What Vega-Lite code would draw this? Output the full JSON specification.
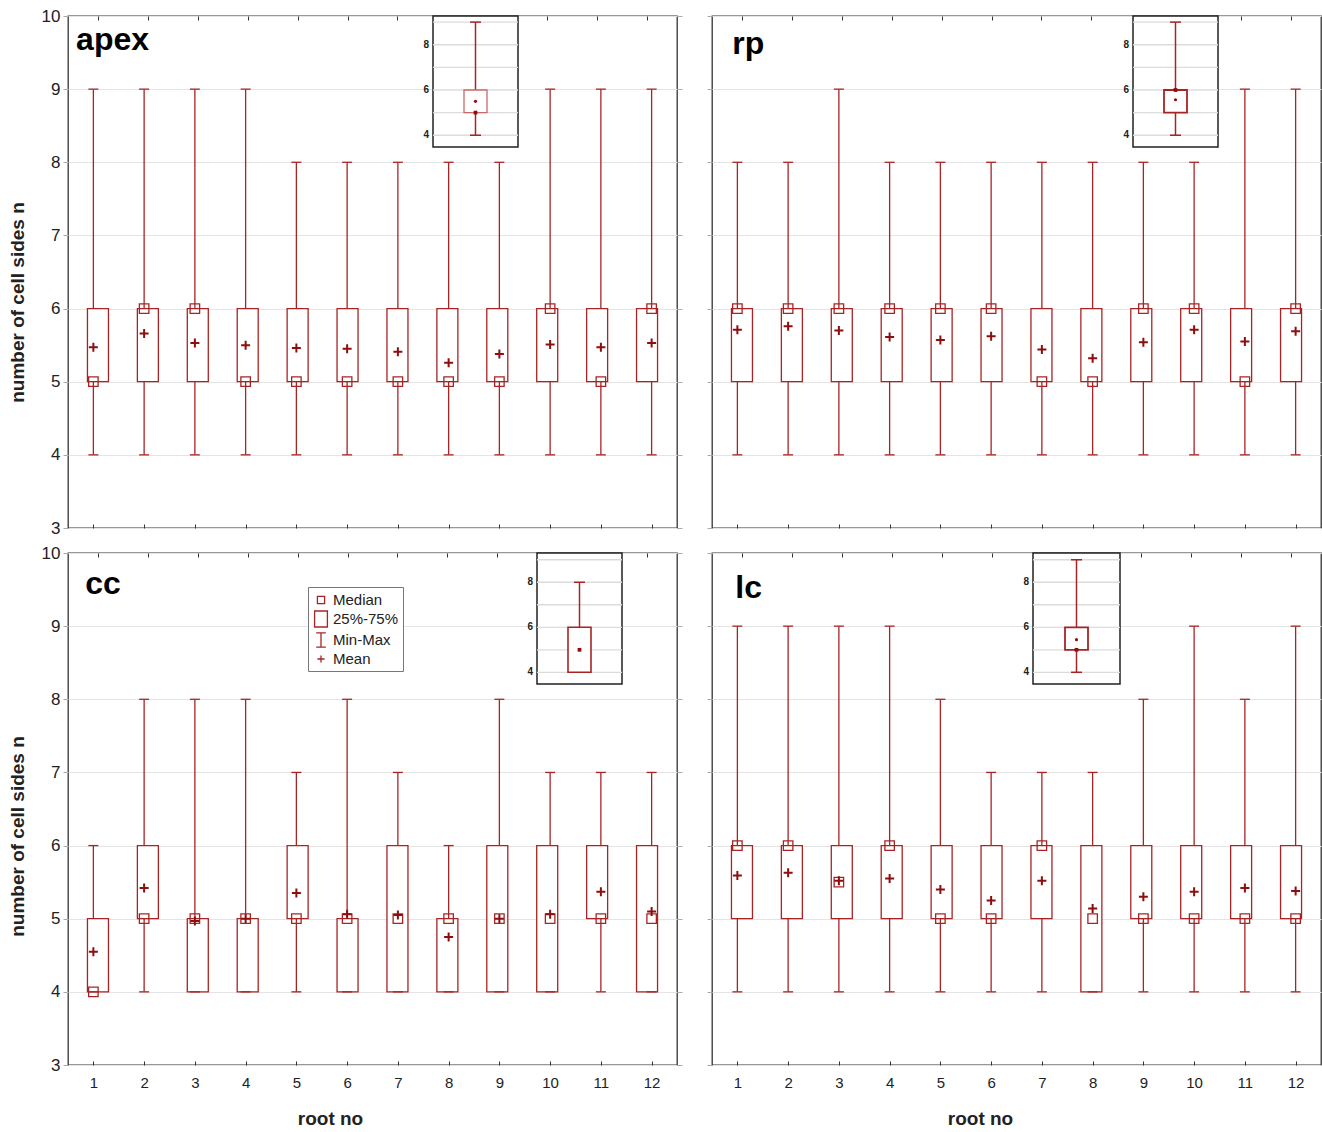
{
"$schema": "https://vega.github.io/schema/vega-lite/v6.json",
"padding": {"left": 7, "top": 6, "right": 0, "bottom": 0},
"background": "white",
"config": {
 "view": {"stroke": "#333", "strokeWidth": 1.3},
 "font": "Liberation Sans",
 "axis": {"domain": false, "labelColor": "#222", "titleColor": "#222", "titleFontWeight": "bold", "titleFontSize": 19},
 "axisX": {"tickSize": -4, "tickColor": "#333", "grid": false, "labelFontSize": 15, "labelPadding": 14},
 "axisY": {"tickSize": 5, "tickColor": "#aaa", "labelFontSize": 17, "labelPadding": 3, "gridColor": "#e4e4e4"},
 "tick": {"orient": "horizontal", "thickness": 1.3, "color": "#a82424", "opacity": 1},
 "point": {"opacity": 1},
 "rule": {"color": "#a82424", "strokeWidth": 1.3}
},
"datasets": {
"main": [
{"panel":"apex","root":1,"min":4,"q1":5,"median":5,"q3":6,"max":9,"mean":5.47},
{"panel":"apex","root":2,"min":4,"q1":5,"median":6,"q3":6,"max":9,"mean":5.66},
{"panel":"apex","root":3,"min":4,"q1":5,"median":6,"q3":6,"max":9,"mean":5.53},
{"panel":"apex","root":4,"min":4,"q1":5,"median":5,"q3":6,"max":9,"mean":5.50},
{"panel":"apex","root":5,"min":4,"q1":5,"median":5,"q3":6,"max":8,"mean":5.46},
{"panel":"apex","root":6,"min":4,"q1":5,"median":5,"q3":6,"max":8,"mean":5.45},
{"panel":"apex","root":7,"min":4,"q1":5,"median":5,"q3":6,"max":8,"mean":5.41},
{"panel":"apex","root":8,"min":4,"q1":5,"median":5,"q3":6,"max":8,"mean":5.26},
{"panel":"apex","root":9,"min":4,"q1":5,"median":5,"q3":6,"max":8,"mean":5.38},
{"panel":"apex","root":10,"min":4,"q1":5,"median":6,"q3":6,"max":9,"mean":5.51},
{"panel":"apex","root":11,"min":4,"q1":5,"median":5,"q3":6,"max":9,"mean":5.47},
{"panel":"apex","root":12,"min":4,"q1":5,"median":6,"q3":6,"max":9,"mean":5.53},
{"panel":"rp","root":1,"min":4,"q1":5,"median":6,"q3":6,"max":8,"mean":5.71},
{"panel":"rp","root":2,"min":4,"q1":5,"median":6,"q3":6,"max":8,"mean":5.76},
{"panel":"rp","root":3,"min":4,"q1":5,"median":6,"q3":6,"max":9,"mean":5.70},
{"panel":"rp","root":4,"min":4,"q1":5,"median":6,"q3":6,"max":8,"mean":5.61},
{"panel":"rp","root":5,"min":4,"q1":5,"median":6,"q3":6,"max":8,"mean":5.57},
{"panel":"rp","root":6,"min":4,"q1":5,"median":6,"q3":6,"max":8,"mean":5.62},
{"panel":"rp","root":7,"min":4,"q1":5,"median":5,"q3":6,"max":8,"mean":5.44},
{"panel":"rp","root":8,"min":4,"q1":5,"median":5,"q3":6,"max":8,"mean":5.32},
{"panel":"rp","root":9,"min":4,"q1":5,"median":6,"q3":6,"max":8,"mean":5.54},
{"panel":"rp","root":10,"min":4,"q1":5,"median":6,"q3":6,"max":8,"mean":5.71},
{"panel":"rp","root":11,"min":4,"q1":5,"median":5,"q3":6,"max":9,"mean":5.55},
{"panel":"rp","root":12,"min":4,"q1":5,"median":6,"q3":6,"max":9,"mean":5.69},
{"panel":"cc","root":1,"min":4,"q1":4,"median":4,"q3":5,"max":6,"mean":4.55},
{"panel":"cc","root":2,"min":4,"q1":5,"median":5,"q3":6,"max":8,"mean":5.42},
{"panel":"cc","root":3,"min":4,"q1":4,"median":5,"q3":5,"max":8,"mean":4.97},
{"panel":"cc","root":4,"min":4,"q1":4,"median":5,"q3":5,"max":8,"mean":5.0},
{"panel":"cc","root":5,"min":4,"q1":5,"median":5,"q3":6,"max":7,"mean":5.35},
{"panel":"cc","root":6,"min":4,"q1":4,"median":5,"q3":5,"max":8,"mean":5.06},
{"panel":"cc","root":7,"min":4,"q1":4,"median":5,"q3":6,"max":7,"mean":5.05},
{"panel":"cc","root":8,"min":4,"q1":4,"median":5,"q3":5,"max":6,"mean":4.75},
{"panel":"cc","root":9,"min":4,"q1":4,"median":5,"q3":6,"max":8,"mean":5.0},
{"panel":"cc","root":10,"min":4,"q1":4,"median":5,"q3":6,"max":7,"mean":5.06},
{"panel":"cc","root":11,"min":4,"q1":5,"median":5,"q3":6,"max":7,"mean":5.37},
{"panel":"cc","root":12,"min":4,"q1":4,"median":5,"q3":6,"max":7,"mean":5.10},
{"panel":"lc","root":1,"min":4,"q1":5,"median":6,"q3":6,"max":9,"mean":5.59},
{"panel":"lc","root":2,"min":4,"q1":5,"median":6,"q3":6,"max":9,"mean":5.63},
{"panel":"lc","root":3,"min":4,"q1":5,"median":5.5,"q3":6,"max":9,"mean":5.52},
{"panel":"lc","root":4,"min":4,"q1":5,"median":6,"q3":6,"max":9,"mean":5.55},
{"panel":"lc","root":5,"min":4,"q1":5,"median":5,"q3":6,"max":8,"mean":5.40},
{"panel":"lc","root":6,"min":4,"q1":5,"median":5,"q3":6,"max":7,"mean":5.25},
{"panel":"lc","root":7,"min":4,"q1":5,"median":6,"q3":6,"max":7,"mean":5.52},
{"panel":"lc","root":8,"min":4,"q1":4,"median":5,"q3":6,"max":7,"mean":5.14},
{"panel":"lc","root":9,"min":4,"q1":5,"median":5,"q3":6,"max":8,"mean":5.30},
{"panel":"lc","root":10,"min":4,"q1":5,"median":5,"q3":6,"max":9,"mean":5.37},
{"panel":"lc","root":11,"min":4,"q1":5,"median":5,"q3":6,"max":8,"mean":5.42},
{"panel":"lc","root":12,"min":4,"q1":5,"median":5,"q3":6,"max":9,"mean":5.38}
],
"inset": [
{"panel":"apex","min":4,"q1":5,"median":5,"q3":6,"max":9,"mean":5.5},
{"panel":"rp","min":4,"q1":5,"median":6,"q3":6,"max":9,"mean":5.57},
{"panel":"cc","min":4,"q1":4,"median":5,"q3":6,"max":8,"mean":5.0},
{"panel":"lc","min":4,"q1":5,"median":5,"q3":6,"max":9,"mean":5.45}
],
"igrid": [{"g":4},{"g":5},{"g":6},{"g":7},{"g":8},{"g":9}],
"legend": [{"item":"Median"},{"item":"25%-75%"},{"item":"Min-Max"},{"item":"Mean"}]
},
"columns": 2,
"spacing": {"row": 25, "column": 35},
"bounds": "flush",
"concat": [
{
"width": 609, "height": 512,
"resolve": {"scale": {"x": "independent", "y": "independent"}},
"layer": [
{"data": {"name": "main"}, "transform": [{"filter": "datum.panel === 'apex'"}], "mark": {"type": "rule"},
 "encoding": {"x": {"field": "root", "type": "quantitative", "scale": {"domain": [0.5, 12.5], "nice": false, "zero": false}, "axis": {"values": [1,2,3,4,5,6,7,8,9,10,11,12], "labels": false, "title": null}},
  "y": {"field": "min", "type": "quantitative", "scale": {"domain": [3, 10], "nice": false, "zero": false}, "axis": {"values": [3,4,5,6,7,8,9,10], "format": "d", "grid": true, "title": "number of cell sides n", "titlePadding": 14, "titleY": 286}}, "y2": {"field": "max"}}},
{"data": {"name": "main"}, "transform": [{"filter": "datum.panel === 'apex'"}], "mark": {"type": "bar", "size": 21, "fill": "white", "stroke": "#a82424", "strokeWidth": 1.3},
 "encoding": {"x": {"field": "root", "type": "quantitative", "scale": {"domain": [0.5, 12.5], "nice": false, "zero": false}, "axis": {"orient": "top", "values": [1,2,3,4,5,6,7,8,9,10,11,12], "labels": false, "title": null}},
  "y": {"field": "q1", "type": "quantitative", "scale": {"domain": [3, 10], "nice": false, "zero": false}, "axis": {"orient": "right", "values": [3,4,5,6,7,8,9,10], "labels": false, "grid": false, "title": null}}, "y2": {"field": "q3"}}},
{"data": {"name": "main"}, "transform": [{"filter": "datum.panel === 'apex'"}], "mark": {"type": "tick", "size": 10},
 "encoding": {"x": {"field": "root", "type": "quantitative", "scale": {"domain": [0.5, 12.5], "nice": false, "zero": false}, "axis": null},
  "y": {"field": "min", "type": "quantitative", "scale": {"domain": [3, 10], "nice": false, "zero": false}, "axis": null}}},
{"data": {"name": "main"}, "transform": [{"filter": "datum.panel === 'apex'"}], "mark": {"type": "tick", "size": 10},
 "encoding": {"x": {"field": "root", "type": "quantitative", "scale": {"domain": [0.5, 12.5], "nice": false, "zero": false}, "axis": null},
  "y": {"field": "max", "type": "quantitative", "scale": {"domain": [3, 10], "nice": false, "zero": false}, "axis": null}}},
{"data": {"name": "main"}, "transform": [{"filter": "datum.panel === 'apex'"}], "mark": {"type": "point", "shape": "square", "size": 90, "filled": false, "color": "#a82424", "strokeWidth": 1.3},
 "encoding": {"x": {"field": "root", "type": "quantitative", "scale": {"domain": [0.5, 12.5], "nice": false, "zero": false}, "axis": null},
  "y": {"field": "median", "type": "quantitative", "scale": {"domain": [3, 10], "nice": false, "zero": false}, "axis": null}}},
{"data": {"name": "main"}, "transform": [{"filter": "datum.panel === 'apex'"}], "mark": {"type": "point", "shape": "M-1,0H1M0,-1V1", "size": 81, "filled": false, "color": "#8e0e0e", "strokeWidth": 2},
 "encoding": {"x": {"field": "root", "type": "quantitative", "scale": {"domain": [0.5, 12.5], "nice": false, "zero": false}, "axis": null},
  "y": {"field": "mean", "type": "quantitative", "scale": {"domain": [3, 10], "nice": false, "zero": false}, "axis": null}}},
{"data": {"name": "main"}, "transform": [{"filter": "datum.panel === 'apex' && datum.root === 1"}], "mark": {"type": "text", "fontSize": 32, "fontWeight": "bold", "align": "left", "baseline": "alphabetic", "color": "black"},
 "encoding": {"text": {"field": "panel"}, "x": {"datum": 0.66, "type": "quantitative", "scale": {"domain": [0.5, 12.5], "nice": false, "zero": false}, "axis": null},
  "y": {"datum": 9.53, "type": "quantitative", "scale": {"domain": [3, 10], "nice": false, "zero": false}, "axis": null}}},
{"data": {"name": "inset"}, "transform": [{"filter": "datum.panel === 'apex'"}], "mark": {"type": "rect", "fill": "white", "stroke": "#222", "strokeWidth": 1.5},
 "encoding": {"x": {"datum": 0, "type": "quantitative", "scale": {"domain": [0, 1], "range": [365, 450]}, "axis": null}, "x2": {"datum": 1},
  "y": {"datum": 3.48, "type": "quantitative", "scale": {"domain": [3.48, 9.27], "range": [131, 0], "nice": false, "zero": false}, "axis": null}, "y2": {"datum": 9.27}}},
{"data": {"name": "igrid"}, "mark": {"type": "rule", "color": "#dcdcdc"},
 "encoding": {"x": {"datum": 0, "type": "quantitative", "scale": {"domain": [0, 1], "range": [365, 450]}, "axis": null}, "x2": {"datum": 1},
  "y": {"field": "g", "type": "quantitative", "scale": {"domain": [3.48, 9.27], "range": [131, 0], "nice": false, "zero": false}, "axis": null}}},
{"data": {"name": "igrid"}, "transform": [{"filter": "datum.g % 2 === 0"}], "mark": {"type": "text", "fontSize": 10, "fontWeight": "bold", "align": "right", "baseline": "middle", "dx": -4, "color": "#222"},
 "encoding": {"text": {"field": "g"}, "x": {"datum": 0, "type": "quantitative", "scale": {"domain": [0, 1], "range": [365, 450]}, "axis": null},
  "y": {"field": "g", "type": "quantitative", "scale": {"domain": [3.48, 9.27], "range": [131, 0], "nice": false, "zero": false}, "axis": null}}},
{"data": {"name": "inset"}, "transform": [{"filter": "datum.panel === 'apex'"}], "mark": {"type": "rule", "strokeWidth": 1.5},
 "encoding": {"x": {"datum": 0.5, "type": "quantitative", "scale": {"domain": [0, 1], "range": [365, 450]}, "axis": null},
  "y": {"field": "min", "type": "quantitative", "scale": {"domain": [3.48, 9.27], "range": [131, 0], "nice": false, "zero": false}, "axis": null}, "y2": {"field": "max"}}},
{"data": {"name": "inset"}, "transform": [{"filter": "datum.panel === 'apex'"}], "mark": {"type": "bar", "size": 23, "fill": "white", "stroke": "#c86a6a", "strokeWidth": 1.3},
 "encoding": {"x": {"datum": 0.5, "type": "quantitative", "scale": {"domain": [0, 1], "range": [365, 450]}, "axis": null},
  "y": {"field": "q1", "type": "quantitative", "scale": {"domain": [3.48, 9.27], "range": [131, 0], "nice": false, "zero": false}, "axis": null}, "y2": {"field": "q3"}}},
{"data": {"name": "inset"}, "transform": [{"filter": "datum.panel === 'apex'"}], "mark": {"type": "tick", "size": 11, "thickness": 1.5},
 "encoding": {"x": {"datum": 0.5, "type": "quantitative", "scale": {"domain": [0, 1], "range": [365, 450]}, "axis": null},
  "y": {"field": "min", "type": "quantitative", "scale": {"domain": [3.48, 9.27], "range": [131, 0], "nice": false, "zero": false}, "axis": null}}},
{"data": {"name": "inset"}, "transform": [{"filter": "datum.panel === 'apex'"}], "mark": {"type": "tick", "size": 11, "thickness": 1.5},
 "encoding": {"x": {"datum": 0.5, "type": "quantitative", "scale": {"domain": [0, 1], "range": [365, 450]}, "axis": null},
  "y": {"field": "max", "type": "quantitative", "scale": {"domain": [3.48, 9.27], "range": [131, 0], "nice": false, "zero": false}, "axis": null}}},
{"data": {"name": "inset"}, "transform": [{"filter": "datum.panel === 'apex'"}], "mark": {"type": "point", "shape": "square", "size": 14, "filled": true, "color": "#8e0e0e"},
 "encoding": {"x": {"datum": 0.5, "type": "quantitative", "scale": {"domain": [0, 1], "range": [365, 450]}, "axis": null},
  "y": {"field": "median", "type": "quantitative", "scale": {"domain": [3.48, 9.27], "range": [131, 0], "nice": false, "zero": false}, "axis": null}}},
{"data": {"name": "inset"}, "transform": [{"filter": "datum.panel === 'apex'"}], "mark": {"type": "point", "shape": "circle", "size": 10, "filled": true, "color": "#8e0e0e"},
 "encoding": {"x": {"datum": 0.5, "type": "quantitative", "scale": {"domain": [0, 1], "range": [365, 450]}, "axis": null},
  "y": {"field": "mean", "type": "quantitative", "scale": {"domain": [3.48, 9.27], "range": [131, 0], "nice": false, "zero": false}, "axis": null}}}
]
},
{
"width": 609, "height": 512,
"resolve": {"scale": {"x": "independent", "y": "independent"}},
"layer": [
{"data": {"name": "main"}, "transform": [{"filter": "datum.panel === 'rp'"}], "mark": {"type": "rule"},
 "encoding": {"x": {"field": "root", "type": "quantitative", "scale": {"domain": [0.5, 12.5], "nice": false, "zero": false}, "axis": {"values": [1,2,3,4,5,6,7,8,9,10,11,12], "labels": false, "title": null}},
  "y": {"field": "min", "type": "quantitative", "scale": {"domain": [3, 10], "nice": false, "zero": false}, "axis": {"values": [3,4,5,6,7,8,9,10], "grid": true, "labels": false, "title": null}}, "y2": {"field": "max"}}},
{"data": {"name": "main"}, "transform": [{"filter": "datum.panel === 'rp'"}], "mark": {"type": "bar", "size": 21, "fill": "white", "stroke": "#a82424", "strokeWidth": 1.3},
 "encoding": {"x": {"field": "root", "type": "quantitative", "scale": {"domain": [0.5, 12.5], "nice": false, "zero": false}, "axis": {"orient": "top", "values": [1,2,3,4,5,6,7,8,9,10,11,12], "labels": false, "title": null}},
  "y": {"field": "q1", "type": "quantitative", "scale": {"domain": [3, 10], "nice": false, "zero": false}, "axis": {"orient": "right", "values": [3,4,5,6,7,8,9,10], "labels": false, "grid": false, "title": null}}, "y2": {"field": "q3"}}},
{"data": {"name": "main"}, "transform": [{"filter": "datum.panel === 'rp'"}], "mark": {"type": "tick", "size": 10},
 "encoding": {"x": {"field": "root", "type": "quantitative", "scale": {"domain": [0.5, 12.5], "nice": false, "zero": false}, "axis": null},
  "y": {"field": "min", "type": "quantitative", "scale": {"domain": [3, 10], "nice": false, "zero": false}, "axis": null}}},
{"data": {"name": "main"}, "transform": [{"filter": "datum.panel === 'rp'"}], "mark": {"type": "tick", "size": 10},
 "encoding": {"x": {"field": "root", "type": "quantitative", "scale": {"domain": [0.5, 12.5], "nice": false, "zero": false}, "axis": null},
  "y": {"field": "max", "type": "quantitative", "scale": {"domain": [3, 10], "nice": false, "zero": false}, "axis": null}}},
{"data": {"name": "main"}, "transform": [{"filter": "datum.panel === 'rp'"}], "mark": {"type": "point", "shape": "square", "size": 90, "filled": false, "color": "#a82424", "strokeWidth": 1.3},
 "encoding": {"x": {"field": "root", "type": "quantitative", "scale": {"domain": [0.5, 12.5], "nice": false, "zero": false}, "axis": null},
  "y": {"field": "median", "type": "quantitative", "scale": {"domain": [3, 10], "nice": false, "zero": false}, "axis": null}}},
{"data": {"name": "main"}, "transform": [{"filter": "datum.panel === 'rp'"}], "mark": {"type": "point", "shape": "M-1,0H1M0,-1V1", "size": 81, "filled": false, "color": "#8e0e0e", "strokeWidth": 2},
 "encoding": {"x": {"field": "root", "type": "quantitative", "scale": {"domain": [0.5, 12.5], "nice": false, "zero": false}, "axis": null},
  "y": {"field": "mean", "type": "quantitative", "scale": {"domain": [3, 10], "nice": false, "zero": false}, "axis": null}}},
{"data": {"name": "main"}, "transform": [{"filter": "datum.panel === 'rp' && datum.root === 1"}], "mark": {"type": "text", "fontSize": 32, "fontWeight": "bold", "align": "left", "baseline": "alphabetic", "color": "black"},
 "encoding": {"text": {"field": "panel"}, "x": {"datum": 0.9, "type": "quantitative", "scale": {"domain": [0.5, 12.5], "nice": false, "zero": false}, "axis": null},
  "y": {"datum": 9.48, "type": "quantitative", "scale": {"domain": [3, 10], "nice": false, "zero": false}, "axis": null}}},
{"data": {"name": "inset"}, "transform": [{"filter": "datum.panel === 'rp'"}], "mark": {"type": "rect", "fill": "white", "stroke": "#222", "strokeWidth": 1.5},
 "encoding": {"x": {"datum": 0, "type": "quantitative", "scale": {"domain": [0, 1], "range": [421, 506]}, "axis": null}, "x2": {"datum": 1},
  "y": {"datum": 3.48, "type": "quantitative", "scale": {"domain": [3.48, 9.27], "range": [131, 0], "nice": false, "zero": false}, "axis": null}, "y2": {"datum": 9.27}}},
{"data": {"name": "igrid"}, "mark": {"type": "rule", "color": "#dcdcdc"},
 "encoding": {"x": {"datum": 0, "type": "quantitative", "scale": {"domain": [0, 1], "range": [421, 506]}, "axis": null}, "x2": {"datum": 1},
  "y": {"field": "g", "type": "quantitative", "scale": {"domain": [3.48, 9.27], "range": [131, 0], "nice": false, "zero": false}, "axis": null}}},
{"data": {"name": "igrid"}, "transform": [{"filter": "datum.g % 2 === 0"}], "mark": {"type": "text", "fontSize": 10, "fontWeight": "bold", "align": "right", "baseline": "middle", "dx": -4, "color": "#222"},
 "encoding": {"text": {"field": "g"}, "x": {"datum": 0, "type": "quantitative", "scale": {"domain": [0, 1], "range": [421, 506]}, "axis": null},
  "y": {"field": "g", "type": "quantitative", "scale": {"domain": [3.48, 9.27], "range": [131, 0], "nice": false, "zero": false}, "axis": null}}},
{"data": {"name": "inset"}, "transform": [{"filter": "datum.panel === 'rp'"}], "mark": {"type": "rule", "strokeWidth": 1.5},
 "encoding": {"x": {"datum": 0.5, "type": "quantitative", "scale": {"domain": [0, 1], "range": [421, 506]}, "axis": null},
  "y": {"field": "min", "type": "quantitative", "scale": {"domain": [3.48, 9.27], "range": [131, 0], "nice": false, "zero": false}, "axis": null}, "y2": {"field": "max"}}},
{"data": {"name": "inset"}, "transform": [{"filter": "datum.panel === 'rp'"}], "mark": {"type": "bar", "size": 23, "fill": "white", "stroke": "#a82424", "strokeWidth": 1.8},
 "encoding": {"x": {"datum": 0.5, "type": "quantitative", "scale": {"domain": [0, 1], "range": [421, 506]}, "axis": null},
  "y": {"field": "q1", "type": "quantitative", "scale": {"domain": [3.48, 9.27], "range": [131, 0], "nice": false, "zero": false}, "axis": null}, "y2": {"field": "q3"}}},
{"data": {"name": "inset"}, "transform": [{"filter": "datum.panel === 'rp'"}], "mark": {"type": "tick", "size": 11, "thickness": 1.5},
 "encoding": {"x": {"datum": 0.5, "type": "quantitative", "scale": {"domain": [0, 1], "range": [421, 506]}, "axis": null},
  "y": {"field": "min", "type": "quantitative", "scale": {"domain": [3.48, 9.27], "range": [131, 0], "nice": false, "zero": false}, "axis": null}}},
{"data": {"name": "inset"}, "transform": [{"filter": "datum.panel === 'rp'"}], "mark": {"type": "tick", "size": 11, "thickness": 1.5},
 "encoding": {"x": {"datum": 0.5, "type": "quantitative", "scale": {"domain": [0, 1], "range": [421, 506]}, "axis": null},
  "y": {"field": "max", "type": "quantitative", "scale": {"domain": [3.48, 9.27], "range": [131, 0], "nice": false, "zero": false}, "axis": null}}},
{"data": {"name": "inset"}, "transform": [{"filter": "datum.panel === 'rp'"}], "mark": {"type": "point", "shape": "square", "size": 14, "filled": true, "color": "#8e0e0e"},
 "encoding": {"x": {"datum": 0.5, "type": "quantitative", "scale": {"domain": [0, 1], "range": [421, 506]}, "axis": null},
  "y": {"field": "median", "type": "quantitative", "scale": {"domain": [3.48, 9.27], "range": [131, 0], "nice": false, "zero": false}, "axis": null}}},
{"data": {"name": "inset"}, "transform": [{"filter": "datum.panel === 'rp'"}], "mark": {"type": "point", "shape": "circle", "size": 10, "filled": true, "color": "#8e0e0e"},
 "encoding": {"x": {"datum": 0.5, "type": "quantitative", "scale": {"domain": [0, 1], "range": [421, 506]}, "axis": null},
  "y": {"field": "mean", "type": "quantitative", "scale": {"domain": [3.48, 9.27], "range": [131, 0], "nice": false, "zero": false}, "axis": null}}}
]
},
{
"width": 609, "height": 512,
"resolve": {"scale": {"x": "independent", "y": "independent"}},
"layer": [
{"data": {"name": "main"}, "transform": [{"filter": "datum.panel === 'cc'"}], "mark": {"type": "rule"},
 "encoding": {"x": {"field": "root", "type": "quantitative", "scale": {"domain": [0.5, 12.5], "nice": false, "zero": false}, "axis": {"values": [1,2,3,4,5,6,7,8,9,10,11,12], "format": "d", "title": "root no", "titlePadding": 19, "titleX": 262}},
  "y": {"field": "min", "type": "quantitative", "scale": {"domain": [3, 10], "nice": false, "zero": false}, "axis": {"values": [3,4,5,6,7,8,9,10], "format": "d", "grid": true, "title": "number of cell sides n", "titlePadding": 14, "titleY": 283}}, "y2": {"field": "max"}}},
{"data": {"name": "main"}, "transform": [{"filter": "datum.panel === 'cc'"}], "mark": {"type": "bar", "size": 21, "fill": "white", "stroke": "#a82424", "strokeWidth": 1.3},
 "encoding": {"x": {"field": "root", "type": "quantitative", "scale": {"domain": [0.5, 12.5], "nice": false, "zero": false}, "axis": {"orient": "top", "values": [1,2,3,4,5,6,7,8,9,10,11,12], "labels": false, "title": null}},
  "y": {"field": "q1", "type": "quantitative", "scale": {"domain": [3, 10], "nice": false, "zero": false}, "axis": {"orient": "right", "values": [3,4,5,6,7,8,9,10], "labels": false, "grid": false, "title": null}}, "y2": {"field": "q3"}}},
{"data": {"name": "main"}, "transform": [{"filter": "datum.panel === 'cc'"}], "mark": {"type": "tick", "size": 10},
 "encoding": {"x": {"field": "root", "type": "quantitative", "scale": {"domain": [0.5, 12.5], "nice": false, "zero": false}, "axis": null},
  "y": {"field": "min", "type": "quantitative", "scale": {"domain": [3, 10], "nice": false, "zero": false}, "axis": null}}},
{"data": {"name": "main"}, "transform": [{"filter": "datum.panel === 'cc'"}], "mark": {"type": "tick", "size": 10},
 "encoding": {"x": {"field": "root", "type": "quantitative", "scale": {"domain": [0.5, 12.5], "nice": false, "zero": false}, "axis": null},
  "y": {"field": "max", "type": "quantitative", "scale": {"domain": [3, 10], "nice": false, "zero": false}, "axis": null}}},
{"data": {"name": "main"}, "transform": [{"filter": "datum.panel === 'cc'"}], "mark": {"type": "point", "shape": "square", "size": 90, "filled": false, "color": "#a82424", "strokeWidth": 1.3},
 "encoding": {"x": {"field": "root", "type": "quantitative", "scale": {"domain": [0.5, 12.5], "nice": false, "zero": false}, "axis": null},
  "y": {"field": "median", "type": "quantitative", "scale": {"domain": [3, 10], "nice": false, "zero": false}, "axis": null}}},
{"data": {"name": "main"}, "transform": [{"filter": "datum.panel === 'cc'"}], "mark": {"type": "point", "shape": "M-1,0H1M0,-1V1", "size": 81, "filled": false, "color": "#8e0e0e", "strokeWidth": 2},
 "encoding": {"x": {"field": "root", "type": "quantitative", "scale": {"domain": [0.5, 12.5], "nice": false, "zero": false}, "axis": null},
  "y": {"field": "mean", "type": "quantitative", "scale": {"domain": [3, 10], "nice": false, "zero": false}, "axis": null}}},
{"data": {"name": "main"}, "transform": [{"filter": "datum.panel === 'cc' && datum.root === 1"}], "mark": {"type": "text", "fontSize": 32, "fontWeight": "bold", "align": "left", "baseline": "alphabetic", "color": "black"},
 "encoding": {"text": {"field": "panel"}, "x": {"datum": 0.84, "type": "quantitative", "scale": {"domain": [0.5, 12.5], "nice": false, "zero": false}, "axis": null},
  "y": {"datum": 9.44, "type": "quantitative", "scale": {"domain": [3, 10], "nice": false, "zero": false}, "axis": null}}},
{"data": {"name": "legend"}, "mark": {"type": "point", "filled": false, "color": "#a82424", "opacity": 0},
 "encoding": {"x": {"datum": 6, "type": "quantitative", "scale": {"domain": [0.5, 12.5], "nice": false, "zero": false}, "axis": null},
  "y": {"datum": 6, "type": "quantitative", "scale": {"domain": [3, 10], "nice": false, "zero": false}, "axis": null},
  "shape": {"field": "item", "type": "nominal",
   "scale": {"domain": ["Median", "25%-75%", "Min-Max", "Mean"], "range": ["M-0.45,-0.45H0.45V0.45H-0.45Z", "M-0.8,-1H0.8V1H-0.8Z", "M-0.6,-0.9H0.6M0,-0.9V0.9M-0.6,0.9H0.6", "M-0.45,0H0.45M0,-0.45V0.45"]},
   "legend": {"orient": "none", "legendX": 240, "legendY": 571, "title": null, "labelFontSize": 15, "labelColor": "#222", "symbolSize": 256, "symbolStrokeColor": "#a82424", "symbolStrokeWidth": 1.3, "symbolFillColor": "transparent", "symbolOpacity": 1, "strokeColor": "#777", "fillColor": "white", "padding": 4, "rowPadding": 0, "labelOffset": 3}}}},
{"data": {"name": "inset"}, "transform": [{"filter": "datum.panel === 'cc'"}], "mark": {"type": "rect", "fill": "white", "stroke": "#222", "strokeWidth": 1.5},
 "encoding": {"x": {"datum": 0, "type": "quantitative", "scale": {"domain": [0, 1], "range": [469, 554]}, "axis": null}, "x2": {"datum": 1},
  "y": {"datum": 3.48, "type": "quantitative", "scale": {"domain": [3.48, 9.3], "range": [131, 0], "nice": false, "zero": false}, "axis": null}, "y2": {"datum": 9.3}}},
{"data": {"name": "igrid"}, "mark": {"type": "rule", "color": "#dcdcdc"},
 "encoding": {"x": {"datum": 0, "type": "quantitative", "scale": {"domain": [0, 1], "range": [469, 554]}, "axis": null}, "x2": {"datum": 1},
  "y": {"field": "g", "type": "quantitative", "scale": {"domain": [3.48, 9.3], "range": [131, 0], "nice": false, "zero": false}, "axis": null}}},
{"data": {"name": "igrid"}, "transform": [{"filter": "datum.g % 2 === 0"}], "mark": {"type": "text", "fontSize": 10, "fontWeight": "bold", "align": "right", "baseline": "middle", "dx": -4, "color": "#222"},
 "encoding": {"text": {"field": "g"}, "x": {"datum": 0, "type": "quantitative", "scale": {"domain": [0, 1], "range": [469, 554]}, "axis": null},
  "y": {"field": "g", "type": "quantitative", "scale": {"domain": [3.48, 9.3], "range": [131, 0], "nice": false, "zero": false}, "axis": null}}},
{"data": {"name": "inset"}, "transform": [{"filter": "datum.panel === 'cc'"}], "mark": {"type": "rule", "strokeWidth": 1.5},
 "encoding": {"x": {"datum": 0.5, "type": "quantitative", "scale": {"domain": [0, 1], "range": [469, 554]}, "axis": null},
  "y": {"field": "min", "type": "quantitative", "scale": {"domain": [3.48, 9.3], "range": [131, 0], "nice": false, "zero": false}, "axis": null}, "y2": {"field": "max"}}},
{"data": {"name": "inset"}, "transform": [{"filter": "datum.panel === 'cc'"}], "mark": {"type": "bar", "size": 23, "fill": "white", "stroke": "#a82424", "strokeWidth": 1.6},
 "encoding": {"x": {"datum": 0.5, "type": "quantitative", "scale": {"domain": [0, 1], "range": [469, 554]}, "axis": null},
  "y": {"field": "q1", "type": "quantitative", "scale": {"domain": [3.48, 9.3], "range": [131, 0], "nice": false, "zero": false}, "axis": null}, "y2": {"field": "q3"}}},
{"data": {"name": "inset"}, "transform": [{"filter": "datum.panel === 'cc'"}], "mark": {"type": "tick", "size": 11, "thickness": 1.5},
 "encoding": {"x": {"datum": 0.5, "type": "quantitative", "scale": {"domain": [0, 1], "range": [469, 554]}, "axis": null},
  "y": {"field": "max", "type": "quantitative", "scale": {"domain": [3.48, 9.3], "range": [131, 0], "nice": false, "zero": false}, "axis": null}}},
{"data": {"name": "inset"}, "transform": [{"filter": "datum.panel === 'cc'"}], "mark": {"type": "point", "shape": "square", "size": 14, "filled": true, "color": "#8e0e0e"},
 "encoding": {"x": {"datum": 0.5, "type": "quantitative", "scale": {"domain": [0, 1], "range": [469, 554]}, "axis": null},
  "y": {"field": "median", "type": "quantitative", "scale": {"domain": [3.48, 9.3], "range": [131, 0], "nice": false, "zero": false}, "axis": null}}},
{"data": {"name": "inset"}, "transform": [{"filter": "datum.panel === 'cc'"}], "mark": {"type": "point", "shape": "circle", "size": 10, "filled": true, "color": "#8e0e0e"},
 "encoding": {"x": {"datum": 0.5, "type": "quantitative", "scale": {"domain": [0, 1], "range": [469, 554]}, "axis": null},
  "y": {"field": "mean", "type": "quantitative", "scale": {"domain": [3.48, 9.3], "range": [131, 0], "nice": false, "zero": false}, "axis": null}}}
]
},
{
"width": 609, "height": 512,
"resolve": {"scale": {"x": "independent", "y": "independent"}},
"layer": [
{"data": {"name": "main"}, "transform": [{"filter": "datum.panel === 'lc'"}], "mark": {"type": "rule"},
 "encoding": {"x": {"field": "root", "type": "quantitative", "scale": {"domain": [0.5, 12.5], "nice": false, "zero": false}, "axis": {"values": [1,2,3,4,5,6,7,8,9,10,11,12], "format": "d", "title": "root no", "titlePadding": 19, "titleX": 268}},
  "y": {"field": "min", "type": "quantitative", "scale": {"domain": [3, 10], "nice": false, "zero": false}, "axis": {"values": [3,4,5,6,7,8,9,10], "grid": true, "labels": false, "title": null}}, "y2": {"field": "max"}}},
{"data": {"name": "main"}, "transform": [{"filter": "datum.panel === 'lc'"}], "mark": {"type": "bar", "size": 21, "fill": "white", "stroke": "#a82424", "strokeWidth": 1.3},
 "encoding": {"x": {"field": "root", "type": "quantitative", "scale": {"domain": [0.5, 12.5], "nice": false, "zero": false}, "axis": {"orient": "top", "values": [1,2,3,4,5,6,7,8,9,10,11,12], "labels": false, "title": null}},
  "y": {"field": "q1", "type": "quantitative", "scale": {"domain": [3, 10], "nice": false, "zero": false}, "axis": {"orient": "right", "values": [3,4,5,6,7,8,9,10], "labels": false, "grid": false, "title": null}}, "y2": {"field": "q3"}}},
{"data": {"name": "main"}, "transform": [{"filter": "datum.panel === 'lc'"}], "mark": {"type": "tick", "size": 10},
 "encoding": {"x": {"field": "root", "type": "quantitative", "scale": {"domain": [0.5, 12.5], "nice": false, "zero": false}, "axis": null},
  "y": {"field": "min", "type": "quantitative", "scale": {"domain": [3, 10], "nice": false, "zero": false}, "axis": null}}},
{"data": {"name": "main"}, "transform": [{"filter": "datum.panel === 'lc'"}], "mark": {"type": "tick", "size": 10},
 "encoding": {"x": {"field": "root", "type": "quantitative", "scale": {"domain": [0.5, 12.5], "nice": false, "zero": false}, "axis": null},
  "y": {"field": "max", "type": "quantitative", "scale": {"domain": [3, 10], "nice": false, "zero": false}, "axis": null}}},
{"data": {"name": "main"}, "transform": [{"filter": "datum.panel === 'lc'"}], "mark": {"type": "point", "shape": "square", "size": 90, "filled": false, "color": "#a82424", "strokeWidth": 1.3},
 "encoding": {"x": {"field": "root", "type": "quantitative", "scale": {"domain": [0.5, 12.5], "nice": false, "zero": false}, "axis": null},
  "y": {"field": "median", "type": "quantitative", "scale": {"domain": [3, 10], "nice": false, "zero": false}, "axis": null}}},
{"data": {"name": "main"}, "transform": [{"filter": "datum.panel === 'lc'"}], "mark": {"type": "point", "shape": "M-1,0H1M0,-1V1", "size": 81, "filled": false, "color": "#8e0e0e", "strokeWidth": 2},
 "encoding": {"x": {"field": "root", "type": "quantitative", "scale": {"domain": [0.5, 12.5], "nice": false, "zero": false}, "axis": null},
  "y": {"field": "mean", "type": "quantitative", "scale": {"domain": [3, 10], "nice": false, "zero": false}, "axis": null}}},
{"data": {"name": "main"}, "transform": [{"filter": "datum.panel === 'lc' && datum.root === 1"}], "mark": {"type": "text", "fontSize": 32, "fontWeight": "bold", "align": "left", "baseline": "alphabetic", "color": "black"},
 "encoding": {"text": {"field": "panel"}, "x": {"datum": 0.96, "type": "quantitative", "scale": {"domain": [0.5, 12.5], "nice": false, "zero": false}, "axis": null},
  "y": {"datum": 9.39, "type": "quantitative", "scale": {"domain": [3, 10], "nice": false, "zero": false}, "axis": null}}},
{"data": {"name": "inset"}, "transform": [{"filter": "datum.panel === 'lc'"}], "mark": {"type": "rect", "fill": "white", "stroke": "#222", "strokeWidth": 1.5},
 "encoding": {"x": {"datum": 0, "type": "quantitative", "scale": {"domain": [0, 1], "range": [321, 408]}, "axis": null}, "x2": {"datum": 1},
  "y": {"datum": 3.48, "type": "quantitative", "scale": {"domain": [3.48, 9.3], "range": [131, 0], "nice": false, "zero": false}, "axis": null}, "y2": {"datum": 9.3}}},
{"data": {"name": "igrid"}, "mark": {"type": "rule", "color": "#dcdcdc"},
 "encoding": {"x": {"datum": 0, "type": "quantitative", "scale": {"domain": [0, 1], "range": [321, 408]}, "axis": null}, "x2": {"datum": 1},
  "y": {"field": "g", "type": "quantitative", "scale": {"domain": [3.48, 9.3], "range": [131, 0], "nice": false, "zero": false}, "axis": null}}},
{"data": {"name": "igrid"}, "transform": [{"filter": "datum.g % 2 === 0"}], "mark": {"type": "text", "fontSize": 10, "fontWeight": "bold", "align": "right", "baseline": "middle", "dx": -4, "color": "#222"},
 "encoding": {"text": {"field": "g"}, "x": {"datum": 0, "type": "quantitative", "scale": {"domain": [0, 1], "range": [321, 408]}, "axis": null},
  "y": {"field": "g", "type": "quantitative", "scale": {"domain": [3.48, 9.3], "range": [131, 0], "nice": false, "zero": false}, "axis": null}}},
{"data": {"name": "inset"}, "transform": [{"filter": "datum.panel === 'lc'"}], "mark": {"type": "rule", "strokeWidth": 1.5},
 "encoding": {"x": {"datum": 0.5, "type": "quantitative", "scale": {"domain": [0, 1], "range": [321, 408]}, "axis": null},
  "y": {"field": "min", "type": "quantitative", "scale": {"domain": [3.48, 9.3], "range": [131, 0], "nice": false, "zero": false}, "axis": null}, "y2": {"field": "max"}}},
{"data": {"name": "inset"}, "transform": [{"filter": "datum.panel === 'lc'"}], "mark": {"type": "bar", "size": 23, "fill": "white", "stroke": "#a82424", "strokeWidth": 1.8},
 "encoding": {"x": {"datum": 0.5, "type": "quantitative", "scale": {"domain": [0, 1], "range": [321, 408]}, "axis": null},
  "y": {"field": "q1", "type": "quantitative", "scale": {"domain": [3.48, 9.3], "range": [131, 0], "nice": false, "zero": false}, "axis": null}, "y2": {"field": "q3"}}},
{"data": {"name": "inset"}, "transform": [{"filter": "datum.panel === 'lc'"}], "mark": {"type": "tick", "size": 11, "thickness": 1.5},
 "encoding": {"x": {"datum": 0.5, "type": "quantitative", "scale": {"domain": [0, 1], "range": [321, 408]}, "axis": null},
  "y": {"field": "min", "type": "quantitative", "scale": {"domain": [3.48, 9.3], "range": [131, 0], "nice": false, "zero": false}, "axis": null}}},
{"data": {"name": "inset"}, "transform": [{"filter": "datum.panel === 'lc'"}], "mark": {"type": "tick", "size": 11, "thickness": 1.5},
 "encoding": {"x": {"datum": 0.5, "type": "quantitative", "scale": {"domain": [0, 1], "range": [321, 408]}, "axis": null},
  "y": {"field": "max", "type": "quantitative", "scale": {"domain": [3.48, 9.3], "range": [131, 0], "nice": false, "zero": false}, "axis": null}}},
{"data": {"name": "inset"}, "transform": [{"filter": "datum.panel === 'lc'"}], "mark": {"type": "point", "shape": "square", "size": 14, "filled": true, "color": "#8e0e0e"},
 "encoding": {"x": {"datum": 0.5, "type": "quantitative", "scale": {"domain": [0, 1], "range": [321, 408]}, "axis": null},
  "y": {"field": "median", "type": "quantitative", "scale": {"domain": [3.48, 9.3], "range": [131, 0], "nice": false, "zero": false}, "axis": null}}},
{"data": {"name": "inset"}, "transform": [{"filter": "datum.panel === 'lc'"}], "mark": {"type": "point", "shape": "circle", "size": 10, "filled": true, "color": "#8e0e0e"},
 "encoding": {"x": {"datum": 0.5, "type": "quantitative", "scale": {"domain": [0, 1], "range": [321, 408]}, "axis": null},
  "y": {"field": "mean", "type": "quantitative", "scale": {"domain": [3.48, 9.3], "range": [131, 0], "nice": false, "zero": false}, "axis": null}}}
]
}
]
}
